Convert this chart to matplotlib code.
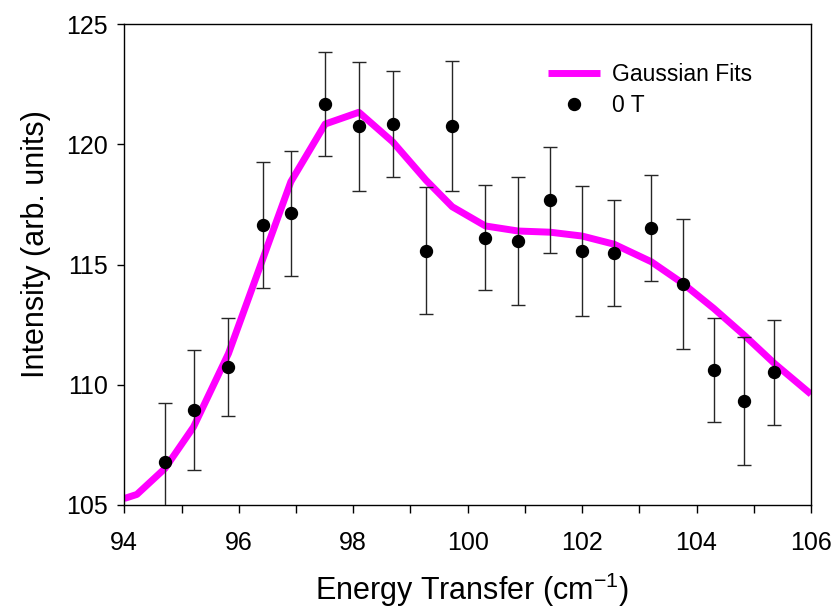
import matplotlib
matplotlib.use("Agg")
import matplotlib.pyplot as plt
from matplotlib.ticker import MultipleLocator

plt.rcParams['font.family'] = ['Liberation Sans', 'DejaVu Sans']
plt.rcParams['mathtext.fontset'] = 'custom'
plt.rcParams['mathtext.rm'] = 'Liberation Sans'
plt.rcParams['mathtext.it'] = 'Liberation Sans:italic'
plt.rcParams['mathtext.bf'] = 'Liberation Sans:bold'

# Measured data (0 T)
energy = [94.71, 95.21, 95.82, 96.43, 96.91, 97.51, 98.10, 98.69, 99.27, 99.73,
          100.31, 100.88, 101.44, 102.00, 102.56, 103.21, 103.76, 104.30, 104.83, 105.36]
intensity = [106.77, 108.95, 110.74, 116.65, 117.13, 121.67, 120.76, 120.85, 115.58, 120.77,
             116.12, 115.99, 117.69, 115.58, 115.48, 116.51, 114.19, 110.63, 109.31, 110.52]
errors = [2.46, 2.50, 2.05, 2.61, 2.60, 2.17, 2.68, 2.20, 2.63, 2.70,
          2.18, 2.67, 2.21, 2.70, 2.20, 2.21, 2.69, 2.17, 2.66, 2.18]

# Gaussian fit curve
fit_x = [94.00, 94.22, 94.71, 95.21, 95.82, 96.43, 96.91, 97.51, 98.10, 98.69, 99.27, 99.73,
         100.31, 100.88, 101.44, 102.00, 102.56, 103.21, 103.76, 104.30, 104.83, 105.36, 106.00]
fit_y = [105.27, 105.44, 106.52, 108.25, 111.30, 115.30, 118.45, 120.85, 121.34, 120.11, 118.52, 117.41,
         116.61, 116.40, 116.35, 116.19, 115.85, 115.12, 114.22, 113.18, 112.07, 110.89, 109.61]

xlim = (94, 106)
ylim = (105, 125)
x_label = 'Energy Transfer (cm$^{\\mathregular{-1}}$)'
y_label = 'Intensity (arb. units)'

fig = plt.figure(figsize=(8.36, 6.13), dpi=100)
ax = fig.add_axes([124.3/836, 1 - 505/613, (811 - 124.3)/836, (505 - 24.3)/613])

ax.plot(fit_x, fit_y, color='#FF00FF', lw=5, solid_capstyle='butt', label='Gaussian Fits', zorder=2)
ax.errorbar(energy, intensity, yerr=errors, fmt='none', ecolor='#262626', elinewidth=1.0,
            capsize=5, capthick=1.0, zorder=3)
ax.plot(energy, intensity, 'o', color='black', markersize=8.6, linestyle='none', label='0 T', zorder=4)

ax.set_xlim(*xlim)
ax.set_ylim(*ylim)
ax.xaxis.set_major_locator(MultipleLocator(2))
ax.xaxis.set_minor_locator(MultipleLocator(1))
ax.yaxis.set_major_locator(MultipleLocator(5))
ax.tick_params(axis='x', which='both', direction='out', length=6, width=1, top=False)
ax.tick_params(axis='x', which='major', labelsize=18, pad=13)
ax.tick_params(axis='y', which='major', direction='out', length=5, width=1, right=False,
               labelsize=18, pad=7)
for s in ax.spines.values():
    s.set_linewidth(1.0)
    s.set_color('black')

fig.text(472/836, 1 - 600/613, x_label, fontsize=22, ha='center', va='baseline')
fig.text(44/836, 1 - 244/613, y_label, fontsize=22, rotation=90, rotation_mode='anchor',
         ha='center', va='baseline')

leg = ax.legend(loc='upper left', bbox_to_anchor=(548/836, 1 - 63/613), bbox_transform=fig.transFigure,
                frameon=False, fontsize=16.5, handlelength=2.27, handletextpad=0.52,
                labelspacing=0.35, borderaxespad=0, borderpad=0)

fig.savefig('out.png', dpi=100)
